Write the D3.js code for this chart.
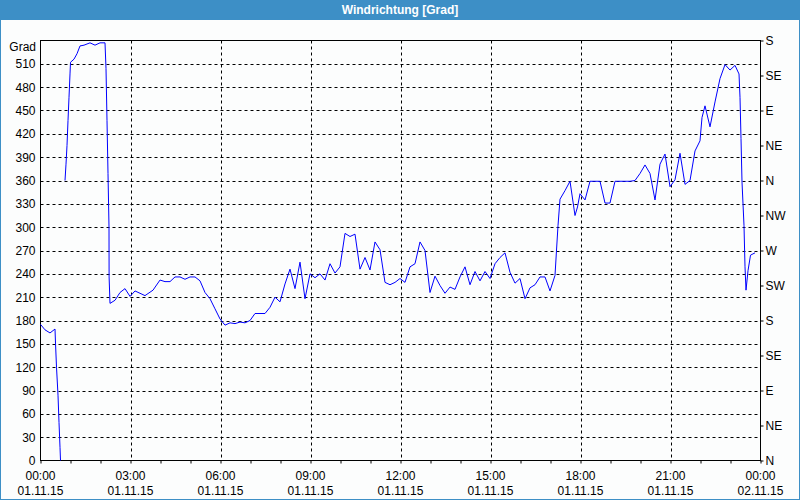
<!DOCTYPE html>
<html><head><meta charset="utf-8">
<script src="https://cdn.jsdelivr.net/npm/d3@7"></script>
<style>
html,body{margin:0;padding:0;background:#fcfdfd;}
svg{display:block;font-family:"Liberation Sans",Arial,sans-serif;}
</style></head>
<body>
<svg id="chart" width="800" height="500"></svg>
<script>
// ---- data (minutes after 00:00 on 01.11.15, wind direction in degrees; null = gap) ----
const title = "Windrichtung [Grad]";
const unitLabel = "Grad";
const minutes = [
  0, 9, 19, 29, 30, 32, 35, 37, 39, 40,
  null,
  49, 51, 53, 55, 57, 59, 60, 67, 73, 79,
  87, 99, 109, 119, 129, 131, 133, 135, 137, 137.2,
  139, 149, 159, 169, 179, 189, 209, 225, 239, 249,
  259, 269, 279, 289, 299, 309, 319, 329, 339, 349,
  359, 369, 379, 389, 399, 409, 419, 429, 439, 449,
  459, 469, 479, 489, 499, 509, 519, 529, 539, 549,
  559, 569, 579, 589, 599, 609, 619, 629, 639, 649,
  659, 669, 679, 689, 699, 709, 719, 729, 739, 749,
  759, 769, 779, 789, 799, 809, 819, 829, 839, 849,
  859, 869, 879, 889, 899, 909, 919, 929, 939, 949,
  959, 969, 979, 989, 999, 1009, 1019, 1029, 1035, 1039,
  1049, 1059, 1069, 1074, 1079, 1089, 1099, 1109, 1119, 1129,
  1139, 1149, 1159, 1169, 1179, 1189, 1199, 1209, 1219, 1229,
  1239, 1249, 1259, 1269, 1279, 1289, 1299, 1309, 1319, 1323,
  1329, 1339, 1349, 1359, 1369, 1379, 1389, 1397, 1399, 1401,
  1403, 1407, 1409, 1411, 1415, 1420, 1429
];
const degrees = [
  175, 168, 164, 169, 151, 120, 84, 49, 17, 0,
  null,
  360, 381, 405, 437, 467, 497, 512, 516, 523, 533,
  534, 537, 534, 537, 537, 504, 437, 369, 300, 236,
  202, 206, 216, 221, 211, 218, 212, 219, 232, 230,
  230, 236, 236, 233, 236, 236, 231, 216, 208, 195,
  182, 174, 177, 176, 178, 177, 180, 189, 189, 189,
  197, 210, 204, 227, 246, 221, 255, 208, 240, 235,
  240, 232, 253, 241, 249, 292, 288, 291, 246, 261,
  245, 281, 271, 229, 226, 229, 234, 229, 249, 253,
  281, 270, 216, 237, 225, 215, 223, 220, 236, 249,
  226, 243, 231, 243, 234, 253, 261, 267, 242, 228,
  234, 208, 222, 226, 236, 236, 218, 238, 302, 336,
  347, 359, 315, 326, 343, 335, 359, 359, 359, 331,
  331, 359, 359, 359, 359, 360, 369, 380, 369, 335,
  381, 394, 352, 361, 395, 355, 360, 398, 411, 441,
  456, 429, 461, 491, 509, 502, 508, 497, 467, 414,
  358, 302, 249, 219, 244, 264, 267
];
const leftTicks = [0,30,60,90,120,150,180,210,240,270,300,330,360,390,420,450,480,510];
const rightTicks = [0,45,90,135,180,225,270,315,360,405,450,495,540];
const rightLabels = ["N","NE","E","SE","S","SW","W","NW","N","NE","E","SE","S"];
const timeTicks = [0,180,360,540,720,900,1080,1260,1440];
const timeLabels = ["00:00","03:00","06:00","09:00","12:00","15:00","18:00","21:00","00:00"];
const dateLabels = ["01.11.15","01.11.15","01.11.15","01.11.15","01.11.15","01.11.15","01.11.15","01.11.15","02.11.15"];

// ---- layout ----
const W = 800, H = 500;
const m = {left: 40.5, right: 39.5, top: 40.5, bottom: 39.5};
const svg = d3.select("#chart");

const x = d3.scaleLinear().domain([0, 1440]).range([m.left, W - m.right]);
const y = d3.scaleLinear().domain([0, 540]).range([H - m.bottom, m.top]);

// background + title bar
svg.append("rect").attr("x",0).attr("y",0).attr("width",W).attr("height",H).attr("fill","#fcfdfd");
svg.append("rect").attr("x",0).attr("y",0).attr("width",W).attr("height",20).attr("fill","#3d8fc6");
svg.append("rect").attr("x",0.5).attr("y",0.5).attr("width",W-1).attr("height",H-1)
  .attr("fill","none").attr("stroke","#3d8fc6").attr("stroke-width",1);
svg.append("text").attr("x",W/2).attr("y",14).attr("text-anchor","middle")
  .attr("fill","#ffffff").attr("font-weight","bold").attr("font-size",12).text(title);

// grid
const grid = svg.append("g").attr("stroke","#000").attr("stroke-width",1).attr("stroke-dasharray","3,3");
grid.selectAll("line.h").data(leftTicks.filter(d => d > 0)).join("line")
  .attr("x1", m.left).attr("x2", W - m.right)
  .attr("y1", d => Math.round(y(d)) + 0.5).attr("y2", d => Math.round(y(d)) + 0.5);
grid.selectAll("line.v").data(timeTicks.filter(d => d > 0 && d < 1440)).join("line")
  .attr("y1", m.top).attr("y2", H - m.bottom)
  .attr("x1", d => Math.round(x(d)) + 0.5).attr("x2", d => Math.round(x(d)) + 0.5);

// frame
svg.append("rect").attr("x", m.left).attr("y", m.top)
  .attr("width", W - m.left - m.right).attr("height", H - m.top - m.bottom)
  .attr("fill","none").attr("stroke","#000").attr("stroke-width",1);

// axes
const fs = 12;
const leftAxis = d3.axisLeft(y).tickValues(leftTicks).tickSize(0).tickPadding(5);
const gL = svg.append("g").attr("transform", `translate(${m.left},0)`).call(leftAxis);
gL.select(".domain").remove();
gL.selectAll("text").attr("font-size", fs).attr("font-family","inherit").attr("fill","#000");
svg.append("text").attr("x", 36).attr("y", y(540) + 10).attr("text-anchor","end")
  .attr("font-size", fs).attr("fill","#000").text(unitLabel);

const rightAxis = d3.axisRight(y).tickValues(rightTicks).tickSize(3).tickPadding(2)
  .tickFormat((d,i) => rightLabels[i]);
const gR = svg.append("g").attr("transform", `translate(${W - m.right},0)`).call(rightAxis);
gR.select(".domain").remove();
gR.selectAll("line").attr("stroke","#000");
gR.selectAll("text").attr("font-size", fs).attr("font-family","inherit").attr("fill","#000");

const hourTicks = d3.range(0, 1441, 60);
const bottomAxis = d3.axisBottom(x).tickValues(hourTicks).tickSize(3).tickFormat("");
const gB = svg.append("g").attr("transform", `translate(0,${H - m.bottom})`).call(bottomAxis);
gB.select(".domain").remove();
gB.selectAll("line").attr("stroke","#000");

const lbl = svg.append("g").attr("font-size", fs).attr("fill","#000").attr("text-anchor","middle");
lbl.selectAll("text.t").data(timeTicks).join("text")
  .attr("x", d => x(d)).attr("y", H - m.bottom + 19).text((d,i) => timeLabels[i]);
lbl.selectAll("text.d").data(timeTicks).join("text")
  .attr("x", d => x(d)).attr("y", H - m.bottom + 34).text((d,i) => dateLabels[i]);

// series
const series = minutes.map((t, i) => ({t, v: degrees[i]}));
const line = d3.line().defined(d => d.t !== null && d.v !== null)
  .x(d => x(d.t)).y(d => y(d.v));
svg.append("path").datum(series).attr("d", line)
  .attr("fill","none").attr("stroke","#0000ff").attr("stroke-width",1);
</script>
</body></html>
